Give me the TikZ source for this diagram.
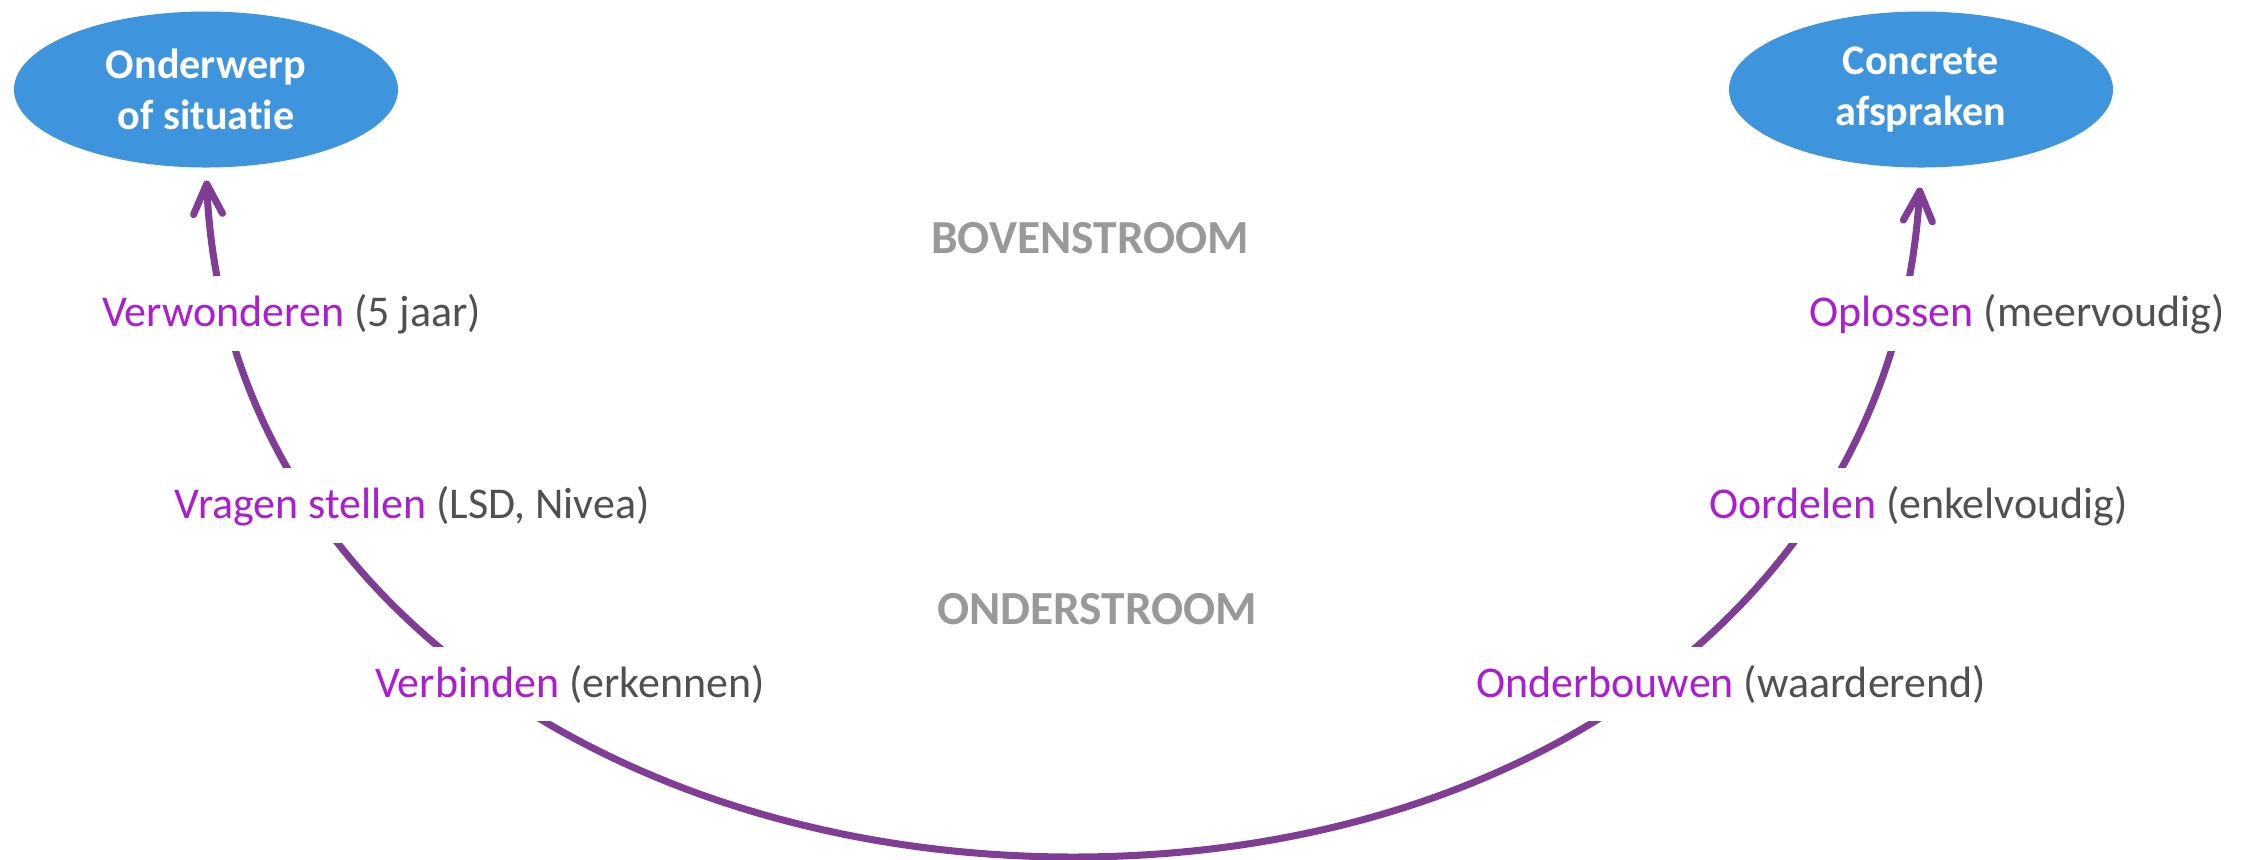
\documentclass[tikz,border=0pt]{standalone}
\usepackage{fontspec}
\setmainfont[Ligatures=NoCommon]{Carlito}
\usetikzlibrary{arrows.meta,shapes.geometric}
\tikzset{>={Straight Barb[round,length=3mm,width=2.9mm]}}

\definecolor{goalblue}{RGB}{62,149,221}
\definecolor{flowpurple}{RGB}{128,61,150}
\definecolor{actpurple}{RGB}{172,28,210}
\definecolor{notegray}{RGB}{80,80,80}
\definecolor{streamgray}{RGB}{152,154,152}

\newcommand{\act}[2]{\textcolor{actpurple}{#1} \textcolor{notegray}{(#2)}}

\begin{document}
\begin{tikzpicture}[
    goal/.style={ellipse, fill=goalblue, text=white, inner sep=0pt,
      minimum width=3.84cm, minimum height=1.56cm, align=center,
      font=\fontsize{12}{14.5}\selectfont\bfseries},
    stage/.style={fill=white, inner xsep=1pt, inner ysep=5pt, anchor=base west,
      font=\fontsize{12.5}{15}\selectfont},
    stream/.style={anchor=base, text=streamgray,
      font=\fontsize{13.5}{16}\selectfont\bfseries}]
  \useasboundingbox (0,0) rectangle (22.49,-8.59);

  \node[goal] (topic) at (2.06,-0.895) {Onderwerp\\of situatie};
  \node[goal] (deals) at (19.21,-0.895) {Concrete\\afspraken};
  \coordinate (dip) at (10.73,-8.57);

  % de boog van onderwerp naar afspraken
  \draw[<->, flowpurple, line width=2pt, shorten <=3.5pt, shorten >=5.5pt]
    (topic.south) .. controls (2.25,-6.0) and (6.2,-8.57) .. (dip)
    .. controls (15.3,-8.57) and (18.95,-6.0) .. (deals.south);

  \node[stage] (wonder) at (0.98,-3.26) {\act{Verwonderen}{5 jaar}};
  \node[stage] (ask)    at (1.70,-5.18) {\act{Vragen stellen}{LSD, Nivea}};
  \node[stage] (link)   at (3.71,-6.97) {\act{Verbinden}{erkennen}};
  \node[stage] (ground) at (14.72,-6.97) {\act{Onderbouwen}{waarderend}};
  \node[stage] (judge)  at (17.05,-5.18) {\act{Oordelen}{enkelvoudig}};
  \node[stage] (solve)  at (18.05,-3.26) {\act{Oplossen}{meervoudig}};

  \node[stream] (above) at (10.90,-2.53) {BOVENSTROOM};
  \node[stream] (below) at (10.97,-6.24) {ONDERSTROOM};
\end{tikzpicture}
\end{document}
